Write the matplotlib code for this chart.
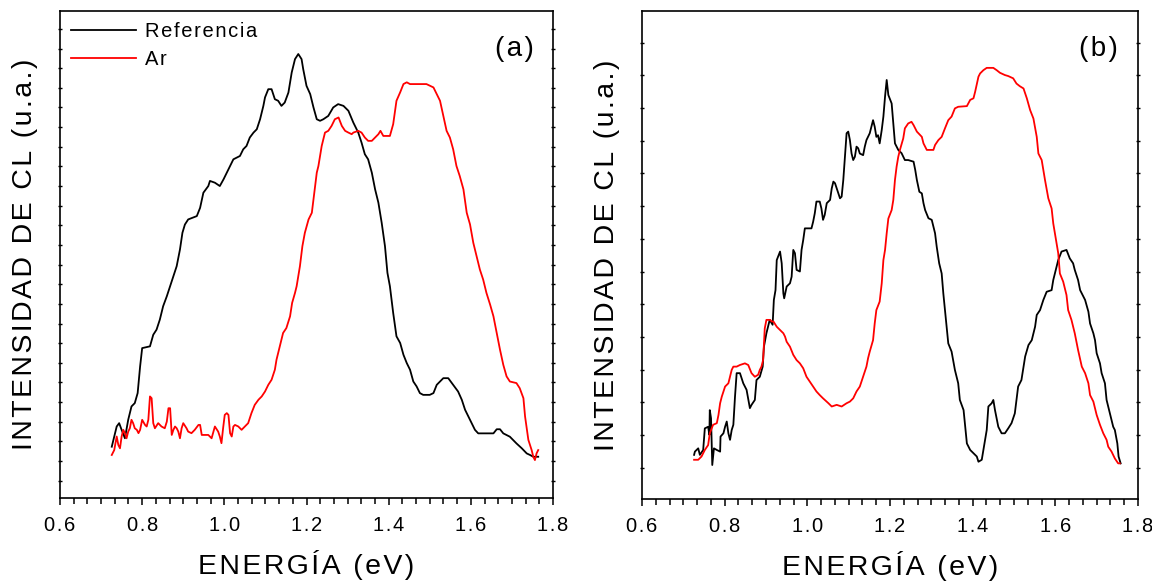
import matplotlib
matplotlib.use('Agg')
from matplotlib import pyplot as plt
from matplotlib.ticker import MultipleLocator, AutoMinorLocator, FuncFormatter, NullFormatter

plt.rcParams['font.family'] = ['Liberation Sans', 'DejaVu Sans']

# panel (a): energy in eV, CL intensity in a.u.
ref_a_x = [0.726, 0.738, 0.744, 0.750, 0.758, 0.766, 0.774, 0.782, 0.789, 0.795, 0.800, 0.819, 0.827, 0.835,
           0.843, 0.851, 0.860, 0.868, 0.876, 0.884, 0.892, 0.898, 0.904, 0.912, 0.933, 0.941, 0.949, 0.961,
           0.965, 0.977, 0.989, 0.998, 1.006, 1.018, 1.022, 1.038, 1.046, 1.054, 1.062, 1.071, 1.079, 1.087,
           1.095, 1.099, 1.107, 1.115, 1.123, 1.131, 1.139, 1.147, 1.156, 1.164, 1.172, 1.180, 1.188, 1.192,
           1.200, 1.209, 1.217, 1.225, 1.233, 1.241, 1.253, 1.265, 1.277, 1.290, 1.302, 1.314, 1.326, 1.334,
           1.342, 1.350, 1.359, 1.367, 1.375, 1.383, 1.391, 1.397, 1.403, 1.411, 1.419, 1.428, 1.436, 1.444,
           1.452, 1.460, 1.468, 1.476, 1.484, 1.500, 1.509, 1.517, 1.525, 1.533, 1.545, 1.557, 1.569, 1.578,
           1.586, 1.594, 1.602, 1.610, 1.618, 1.655, 1.663, 1.671, 1.679, 1.695, 1.703, 1.711, 1.724, 1.736,
           1.744, 1.752, 1.764]
ref_a_y = [1.73, 2.76, 2.93, 2.59, 2.16, 3.10, 3.78, 3.95, 4.46, 5.82, 6.75, 6.84, 7.43, 7.69,
           8.20, 8.88, 9.39, 9.90, 10.41, 10.92, 11.77, 12.62, 13.04, 13.30, 13.47, 13.89, 14.66, 15.00,
           15.26, 15.17, 15.00, 15.34, 15.68, 16.19, 16.36, 16.53, 16.87, 17.04, 17.47, 17.72, 17.89, 18.40,
           19.08, 19.51, 19.93, 19.93, 19.42, 19.34, 19.08, 19.25, 19.76, 20.78, 21.46, 21.72, 21.46, 20.95,
           20.10, 19.68, 19.00, 18.40, 18.32, 18.40, 18.57, 19.00, 19.17, 19.08, 18.83, 18.23, 17.72, 17.21,
           16.62, 16.36, 15.68, 14.83, 14.15, 13.13, 11.94, 10.58, 9.90, 8.54, 7.35, 7.01, 6.41, 5.99,
           5.65, 5.05, 4.80, 4.46, 4.37, 4.37, 4.46, 4.88, 5.05, 5.22, 5.22, 4.88, 4.54, 4.12,
           3.61, 3.27, 2.93, 2.59, 2.41, 2.41, 2.62, 2.62, 2.41, 2.24, 2.07, 1.90, 1.65, 1.39,
           1.31, 1.22, 1.22]

ar_a_x = [0.726, 0.732, 0.738, 0.742, 0.746, 0.750, 0.754, 0.758, 0.762, 0.766, 0.770, 0.774, 0.778, 0.782,
          0.787, 0.791, 0.795, 0.800, 0.807, 0.811, 0.815, 0.819, 0.823, 0.827, 0.831, 0.839, 0.847, 0.855,
          0.860, 0.864, 0.868, 0.872, 0.876, 0.880, 0.884, 0.888, 0.892, 0.896, 0.900, 0.908, 0.912, 0.920,
          0.928, 0.937, 0.941, 0.945, 0.953, 0.961, 0.969, 0.977, 0.985, 0.989, 0.993, 0.997, 1.001, 1.006,
          1.010, 1.014, 1.018, 1.022, 1.026, 1.034, 1.042, 1.050, 1.058, 1.066, 1.074, 1.083, 1.091, 1.099,
          1.107, 1.115, 1.123, 1.127, 1.135, 1.143, 1.151, 1.160, 1.165, 1.172, 1.176, 1.184, 1.190, 1.196,
          1.205, 1.213, 1.217, 1.221, 1.225, 1.229, 1.237, 1.245, 1.253, 1.261, 1.269, 1.278, 1.286, 1.294,
          1.302, 1.310, 1.314, 1.326, 1.334, 1.342, 1.350, 1.359, 1.367, 1.375, 1.380, 1.387, 1.403, 1.411,
          1.419, 1.428, 1.436, 1.444, 1.452, 1.492, 1.509, 1.517, 1.525, 1.533, 1.541, 1.549, 1.557, 1.565,
          1.573, 1.582, 1.590, 1.598, 1.606, 1.614, 1.622, 1.630, 1.638, 1.647, 1.655, 1.663, 1.671, 1.679,
          1.687, 1.695, 1.711, 1.719, 1.728, 1.732, 1.740, 1.748, 1.752, 1.756, 1.760, 1.764]
ar_a_y = [1.31, 1.56, 2.25, 1.82, 1.65, 2.25, 2.59, 2.42, 2.16, 2.50, 2.67, 3.10, 2.93, 2.67,
          2.59, 2.42, 2.59, 3.10, 2.84, 2.76, 3.10, 4.29, 4.20, 2.93, 2.67, 2.93, 2.76, 2.67,
          3.01, 3.69, 3.69, 2.33, 2.59, 2.76, 2.67, 2.50, 2.16, 2.67, 2.93, 2.67, 2.50, 2.42,
          2.59, 2.84, 2.84, 2.33, 2.33, 2.33, 2.16, 2.76, 2.50, 2.25, 1.91, 2.67, 3.35, 3.44,
          3.35, 2.42, 2.25, 2.76, 2.84, 2.76, 2.59, 2.76, 2.93, 3.44, 3.86, 4.12, 4.29, 4.54,
          4.88, 5.14, 5.65, 6.16, 6.84, 7.52, 7.77, 8.37, 9.05, 9.56, 9.90, 10.92, 11.94, 12.62,
          13.30, 13.64, 14.32, 15.00, 15.68, 16.02, 17.04, 17.72, 17.81, 18.06, 18.40, 18.49, 18.06, 17.81,
          17.72, 17.64, 17.72, 17.81, 17.72, 17.47, 17.30, 17.30, 17.47, 17.64, 17.81, 17.55, 17.55, 18.15,
          19.34, 19.77, 20.19, 20.28, 20.19, 20.19, 20.02, 19.68, 19.34, 18.57, 17.81, 17.47, 16.87, 16.02,
          15.51, 14.83, 13.64, 13.05, 12.11, 11.43, 10.75, 10.24, 9.56, 8.96, 8.37, 7.52, 6.67, 5.90,
          5.31, 5.05, 4.97, 4.71, 4.20, 3.27, 2.08, 1.56, 1.22, 1.05, 1.39, 1.56]

# panel (b)
ref_b_x = [0.726, 0.728, 0.736, 0.740, 0.748, 0.752, 0.760, 0.763, 0.764, 0.767, 0.770, 0.774, 0.781, 0.789,
           0.790, 0.797, 0.801, 0.805, 0.809, 0.813, 0.817, 0.821, 0.825, 0.829, 0.837, 0.845, 0.853, 0.861,
           0.865, 0.873, 0.877, 0.885, 0.892, 0.895, 0.901, 0.905, 0.909, 0.916, 0.919, 0.923, 0.926, 0.934,
           0.938, 0.942, 0.944, 0.950, 0.958, 0.962, 0.966, 0.970, 0.974, 0.982, 0.986, 0.990, 0.994, 1.010,
           1.014, 1.018, 1.022, 1.030, 1.034, 1.038, 1.042, 1.047, 1.055, 1.059, 1.063, 1.067, 1.075, 1.079,
           1.083, 1.087, 1.091, 1.095, 1.099, 1.103, 1.107, 1.111, 1.115, 1.119, 1.123, 1.127, 1.135, 1.139,
           1.143, 1.151, 1.155, 1.159, 1.163, 1.167, 1.171, 1.175, 1.180, 1.184, 1.188, 1.192, 1.196, 1.204,
           1.208, 1.212, 1.220, 1.228, 1.236, 1.244, 1.257, 1.261, 1.265, 1.271, 1.277, 1.281, 1.285, 1.293,
           1.301, 1.309, 1.313, 1.319, 1.325, 1.329, 1.333, 1.337, 1.341, 1.349, 1.357, 1.365, 1.369, 1.378,
           1.382, 1.386, 1.394, 1.402, 1.410, 1.414, 1.422, 1.426, 1.430, 1.434, 1.438, 1.446, 1.450, 1.454,
           1.462, 1.470, 1.478, 1.486, 1.494, 1.502, 1.510, 1.518, 1.527, 1.535, 1.543, 1.551, 1.555, 1.563,
           1.571, 1.579, 1.591, 1.595, 1.603, 1.607, 1.615, 1.627, 1.635, 1.643, 1.647, 1.655, 1.660, 1.664,
           1.672, 1.680, 1.684, 1.692, 1.696, 1.700, 1.708, 1.712, 1.720, 1.724, 1.732, 1.740, 1.744, 1.750,
           1.753, 1.758]
ref_b_y = [0.39, 0.49, 0.59, 0.39, 0.54, 1.20, 1.25, 1.00, 1.76, 1.51, 0.08, 0.59, 0.54, 0.49,
           0.95, 1.05, 1.25, 1.41, 1.05, 0.85, 1.15, 1.31, 2.17, 2.89, 2.89, 2.58, 2.38, 1.82,
           1.92, 2.07, 2.68, 2.78, 3.09, 3.70, 4.11, 4.31, 4.52, 4.37, 5.13, 5.43, 6.35, 6.61,
           6.25, 5.33, 5.18, 5.54, 5.64, 5.84, 6.66, 6.56, 6.05, 6.00, 6.66, 6.96, 7.32, 7.32,
           7.52, 7.78, 8.14, 8.14, 7.93, 7.58, 7.73, 8.09, 8.19, 8.54, 8.75, 8.70, 8.39, 8.24,
           8.29, 8.80, 9.51, 10.23, 10.28, 10.02, 9.61, 9.41, 9.51, 9.82, 9.77, 9.61, 9.56, 9.82,
           10.02, 10.23, 10.43, 10.63, 10.43, 10.12, 10.17, 9.92, 10.33, 10.74, 11.35, 11.86, 11.40, 11.14,
           10.53, 9.92, 9.72, 9.62, 9.41, 9.41, 9.36, 9.11, 8.80, 8.44, 8.39, 8.09, 7.88, 7.63,
           7.58, 7.17, 6.76, 6.25, 5.94, 5.33, 4.82, 4.31, 3.80, 3.55, 2.99, 2.58, 2.07, 1.76,
           1.25, 0.74, 0.54, 0.44, 0.34, 0.18, 0.24, 0.54, 0.85, 1.15, 1.87, 1.97, 2.07, 1.76,
           1.25, 1.05, 1.05, 1.20, 1.36, 1.66, 2.48, 2.68, 3.40, 3.75, 3.90, 4.31, 4.67, 4.82,
           5.13, 5.38, 5.43, 5.74, 6.15, 6.35, 6.61, 6.66, 6.40, 6.25, 6.05, 5.74, 5.43, 5.33,
           5.13, 4.77, 4.41, 4.11, 3.90, 3.50, 3.19, 2.89, 2.58, 2.07, 1.66, 1.25, 1.15, 0.74,
           0.34, 0.13]

ar_b_x = [0.726, 0.736, 0.744, 0.752, 0.760, 0.764, 0.772, 0.781, 0.785, 0.789, 0.793, 0.801, 0.809, 0.813,
          0.817, 0.821, 0.829, 0.837, 0.849, 0.857, 0.865, 0.873, 0.881, 0.885, 0.889, 0.893, 0.897, 0.901,
          0.910, 0.914, 0.918, 0.926, 0.934, 0.942, 0.946, 0.950, 0.958, 0.966, 0.974, 0.982, 0.990, 0.998,
          1.006, 1.014, 1.022, 1.030, 1.038, 1.051, 1.059, 1.071, 1.083, 1.095, 1.103, 1.111, 1.119, 1.127,
          1.135, 1.143, 1.147, 1.151, 1.159, 1.163, 1.167, 1.175, 1.180, 1.184, 1.188, 1.192, 1.196, 1.204,
          1.208, 1.212, 1.216, 1.220, 1.224, 1.232, 1.236, 1.244, 1.252, 1.257, 1.265, 1.277, 1.281, 1.289,
          1.305, 1.309, 1.317, 1.325, 1.333, 1.341, 1.349, 1.357, 1.365, 1.386, 1.394, 1.402, 1.406, 1.414,
          1.418, 1.426, 1.434, 1.450, 1.458, 1.466, 1.478, 1.486, 1.498, 1.506, 1.514, 1.523, 1.531, 1.539,
          1.547, 1.555, 1.559, 1.567, 1.575, 1.583, 1.591, 1.595, 1.599, 1.607, 1.611, 1.619, 1.627, 1.631,
          1.639, 1.647, 1.655, 1.664, 1.672, 1.680, 1.684, 1.692, 1.700, 1.708, 1.716, 1.724, 1.728, 1.736,
          1.744, 1.752, 1.756]
ar_b_y = [0.24, 0.24, 0.34, 0.54, 0.69, 1.05, 1.31, 1.36, 1.61, 1.97, 2.17, 2.48, 2.58, 2.78,
          2.99, 3.09, 3.09, 3.14, 3.19, 3.14, 2.89, 2.78, 2.84, 2.99, 3.09, 3.29, 4.26, 4.52,
          4.52, 4.47, 4.47, 4.31, 4.21, 4.11, 4.01, 3.85, 3.70, 3.45, 3.29, 3.19, 3.04, 2.78,
          2.63, 2.48, 2.33, 2.22, 2.12, 1.97, 1.87, 1.92, 1.87, 1.97, 2.02, 2.12, 2.33, 2.48,
          2.78, 3.09, 3.35, 3.55, 3.90, 4.41, 4.82, 5.08, 5.64, 6.35, 6.66, 7.17, 7.62, 7.88,
          8.19, 8.80, 9.21, 9.51, 9.72, 10.07, 10.38, 10.53, 10.58, 10.48, 10.28, 10.12, 9.92, 9.72,
          9.72, 9.87, 10.02, 10.12, 10.38, 10.63, 10.74, 10.99, 11.04, 11.06, 11.25, 11.30, 11.50, 11.96,
          12.06, 12.16, 12.23, 12.23, 12.16, 12.08, 12.01, 11.98, 11.91, 11.75, 11.67, 11.60, 11.30, 10.94,
          10.68, 10.12, 9.61, 9.41, 8.80, 8.24, 7.93, 7.47, 7.17, 6.56, 5.94, 5.69, 5.28, 4.82,
          4.52, 4.11, 3.60, 3.09, 2.89, 2.58, 2.22, 2.02, 1.61, 1.31, 1.05, 0.85, 0.64, 0.49,
          0.28, 0.13, 0.13]

panel_tags = ['(a)', '(b)']
legend_labels = ['Referencia', 'Ar']
xlabel = 'ENERGÍA (eV)'
ylabel = 'INTENSIDAD DE CL (u.a.)'


def track(s):
    # the original text is letter-spaced
    return '\u200a'.join(s)


fig = plt.figure(figsize=(11.52, 5.84), dpi=100)
ax1 = fig.add_axes([60/1152, 86/584, 493/1152, 487/584])
ax2 = fig.add_axes([642/1152, 85/584, 496/1152, 488/584])

ax1.plot(ref_a_x, ref_a_y, color='black', lw=1.3, label=track(legend_labels[0]))
ax1.plot(ar_a_x, ar_a_y, color='red', lw=1.3, label=track(legend_labels[1]))
ax2.plot(ref_b_x, ref_b_y, color='black', lw=1.3)
ax2.plot(ar_b_x, ar_b_y, color='red', lw=1.3)

ax1.set_ylim(-0.88, 23.91)
ax2.set_ylim(-0.96, 13.97)

for ax, tag in zip([ax1, ax2], panel_tags):
    ax.set_xlim(0.6, 1.8)
    ax.xaxis.set_major_locator(MultipleLocator(0.2))
    ax.xaxis.set_minor_locator(AutoMinorLocator(6))
    ax.xaxis.set_major_formatter(FuncFormatter(lambda v, p: track('%.1f' % v)))
    ax.yaxis.set_major_locator(MultipleLocator(1))
    ax.yaxis.set_major_formatter(NullFormatter())
    ax.tick_params(axis='x', which='major', direction='out', length=5, width=1.1,
                   labelsize=14.5, pad=8, top=False)
    ax.tick_params(axis='x', which='minor', direction='out', length=4, width=1.1, top=False)
    ax.tick_params(axis='y', which='major', direction='inout', length=3, width=1, left=True, right=True)
    for sp in ax.spines.values():
        sp.set_linewidth(1.2)
    ax.set_xlabel(track(xlabel), fontsize=20.5, labelpad=11)
    ax.set_ylabel(track(ylabel), fontsize=20.5, labelpad=11)
    ax.text(0.921, 0.922, track(tag), transform=ax.transAxes, fontsize=20, ha='center', va='center')

ax1.legend(loc='upper left', bbox_to_anchor=(0.0, 1.0), frameon=False, fontsize=14.5,
           handlelength=3.2, handletextpad=0.45, labelspacing=0.45, borderaxespad=0.15)

fig.savefig('out.png', dpi=100)
